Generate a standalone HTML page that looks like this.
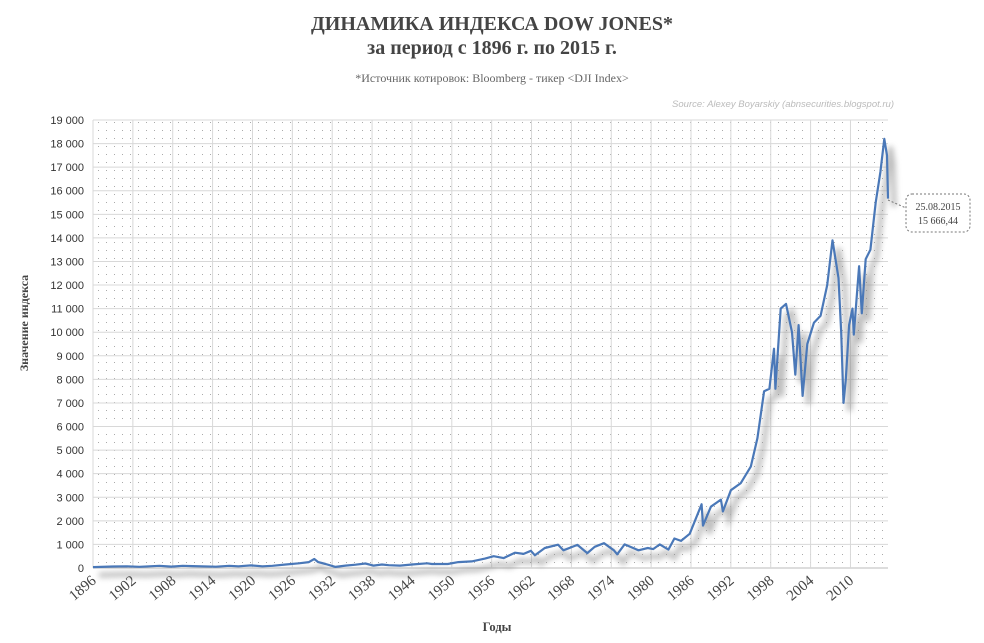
<!DOCTYPE html>
<html><head><meta charset="utf-8">
<style>
body{margin:0;background:#fff;width:984px;height:643px;overflow:hidden;font-family:"Liberation Serif",serif}
svg{position:absolute;left:0;top:0}
</style></head>
<body>
<svg id="c" width="984" height="643">
<defs>
<pattern id="dots" width="8" height="8" patternUnits="userSpaceOnUse"><rect x="2" y="2" width="1" height="1" fill="#aaa"/></pattern>
<filter id="blur" x="-5%" y="-5%" width="110%" height="110%"><feGaussianBlur stdDeviation="3"/></filter>
</defs>
<text x="492" y="30" text-anchor="middle" font-size="20" font-weight="bold" fill="#444">ДИНАМИКА ИНДЕКСА DOW JONES*</text>
<text x="492" y="54" text-anchor="middle" font-size="20" font-weight="bold" fill="#444">за период с 1896 г. по 2015 г.</text>
<text x="492" y="82" text-anchor="middle" font-size="12" fill="#666">*Источник котировок: Bloomberg - тикер &lt;DJI Index&gt;</text>
<text x="894" y="107" text-anchor="end" font-size="9.5" font-style="italic" fill="#bbb" font-family="Liberation Sans, sans-serif">Source: Alexey Boyarskiy (abnsecurities.blogspot.ru)</text>
<rect x="93" y="120" width="795" height="448" fill="url(#dots)"/>
<g id="grid"></g>
<g id="marks"></g>
<text transform="translate(28,323) rotate(-90)" text-anchor="middle" font-size="12" font-weight="bold" fill="#444">Значение индекса</text>
<text x="497" y="631" text-anchor="middle" font-size="12.5" font-weight="bold" fill="#444">Годы</text>
<g>
<line x1="888" y1="200" x2="906" y2="208" stroke="#777" stroke-dasharray="2,2"/>
<rect x="906" y="194" width="64" height="38" rx="6" fill="#fff" stroke="#777" stroke-dasharray="2,2"/>
<text x="938" y="210" text-anchor="middle" font-size="10" fill="#444">25.08.2015</text>
<text x="938" y="224" text-anchor="middle" font-size="10" fill="#444">15 666,44</text>
</g>
</svg>
<script>
const years=[1896,1899,1901,1903,1906,1907.8,1909.5,1911,1914.5,1916.5,1917.9,1919.8,1921.5,1923,1925,1927,1928.5,1929.3,1929.9,1931,1932.5,1934,1935.5,1937,1938.2,1939.5,1940.5,1942.2,1944,1946.3,1947,1949.4,1951,1953,1955,1956.3,1957.8,1959.5,1960.8,1961.9,1962.5,1964,1966,1966.8,1968.9,1970.4,1971.5,1972.9,1974.4,1974.9,1976,1978.1,1979.5,1980.3,1981.3,1982.6,1983.5,1984.5,1985.8,1987.6,1987.8,1989,1990.5,1990.8,1992,1993.5,1995,1996,1997,1997.8,1998.5,1998.7,1999.5,2000.3,2001.2,2001.7,2002.2,2002.8,2003.5,2004.5,2005.5,2006.5,2007.3,2008.2,2008.6,2008.95,2009.3,2009.8,2010.3,2010.5,2011.3,2011.7,2012.3,2013,2013.8,2014.5,2015.1,2015.5,2015.65];
const values=[40,65,70,50,95,60,95,80,55,95,70,110,70,95,150,200,250,380,250,170,45,100,140,190,100,150,120,100,150,200,170,170,250,280,400,500,420,650,600,730,540,850,990,750,980,630,900,1050,750,580,1000,750,850,800,1000,780,1250,1150,1450,2700,1800,2600,2900,2400,3300,3600,4300,5500,7500,7600,9300,7600,11000,11200,10000,8200,10300,7300,9500,10400,10700,12000,13900,12300,10000,7000,8000,10300,11000,9900,12800,10800,13100,13500,15500,16800,18200,17500,15666];
const yTicks=[0,1000,2000,3000,4000,5000,6000,7000,8000,9000,10000,11000,12000,13000,14000,15000,16000,17000,18000,19000];
const xTicks=[1896,1902,1908,1914,1920,1926,1932,1938,1944,1950,1956,1962,1968,1974,1980,1986,1992,1998,2004,2010];
const X0=93,X1=888,Y0=568,Y1=120,YR0=1896,YR1=2015.65,VMAX=19000;
const sx=y=>X0+(y-YR0)/(YR1-YR0)*(X1-X0);
const sy=v=>Y0-v/VMAX*(Y0-Y1);
const NS="http://www.w3.org/2000/svg";
const g=document.getElementById('grid'),m=document.getElementById('marks');
function mk(t,a,p){const e=document.createElementNS(NS,t);for(const k in a)e.setAttribute(k,a[k]);p.appendChild(e);return e;}
const fmt=v=>String(v).replace(/\B(?=(\d{3})+(?!\d))/g,' ');
yTicks.forEach(v=>{
 const l=mk('line',{x1:X0,x2:X1,y1:sy(v),y2:sy(v),stroke:v===0?'#bbb':'#d8d8d8','stroke-width':1},g);
 
 
 const t=mk('text',{x:84,y:sy(v)+4,'text-anchor':'end','font-size':11,fill:'#333','font-family':'Liberation Sans, sans-serif'},g);
 t.textContent=fmt(v);
 
 
});
xTicks.forEach(y=>{
 const x=sx(y);
 const l=mk('line',{x1:x,x2:x,y1:Y1,y2:Y0,stroke:'#d8d8d8','stroke-width':1},g);
 
 
 const t=mk('text',{transform:`translate(${x+4},${Y0+14}) rotate(-40)`,'text-anchor':'end','font-size':15,fill:'#444'},g);
 t.textContent=y;
 
 
});
const pts=years.map((y,i)=>sx(y).toFixed(1)+','+sy(values[i]).toFixed(1)).join(' ');
const sh=mk('polyline',{points:pts,fill:'none',stroke:'#888','stroke-width':5,opacity:0.55,filter:'url(#blur)',transform:'translate(6,8)'},m);


const ln=mk('polyline',{points:pts,fill:'none',stroke:'#4a78b8','stroke-width':2.2,'stroke-linejoin':'round'},m);


</script>
</body></html>
